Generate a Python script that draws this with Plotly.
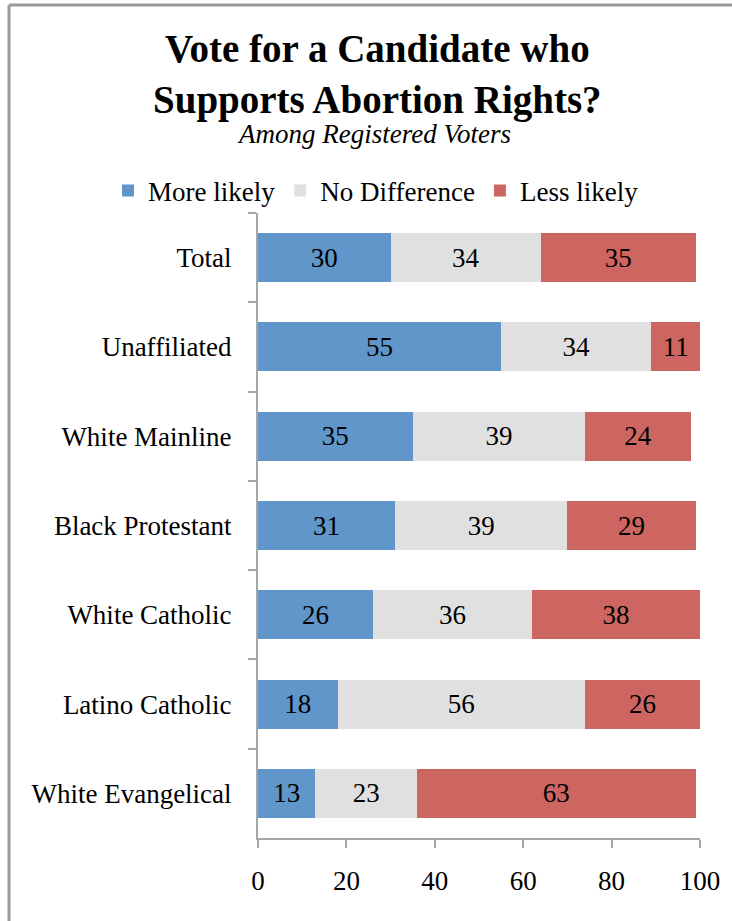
import plotly.graph_objects as go

categories = ["Total", "Unaffiliated", "White Mainline", "Black Protestant",
              "White Catholic", "Latino Catholic", "White Evangelical"]
more_likely = [30, 55, 35, 31, 26, 18, 13]
no_difference = [34, 34, 39, 39, 36, 56, 23]
less_likely = [35, 11, 24, 29, 38, 26, 63]
series_names = ["More likely", "No Difference", "Less likely"]
colors = ["#6096C9", "#E0E0E0", "#CD6661"]
x_ticks = [0, 20, 40, 60, 80, 100]

FONT = "Liberation Serif"

fig = go.Figure()
for name, vals, col in zip(series_names, [more_likely, no_difference, less_likely], colors):
    fig.add_trace(go.Bar(
        y=categories, x=vals, name=name, orientation="h",
        marker=dict(color=col, line=dict(width=0)),
        text=[str(v) for v in vals], textposition="inside",
        insidetextanchor="middle", textangle=0, constraintext="none",
        textfont=dict(family=FONT, size=27, color="black"),
        width=0.55,
    ))

# plot area: x 258..700, y 213..838
L, R, T, B = 258, 32, 213, 83
W, H = 732 - L - R, 921 - T - B

def px(xp):
    return (xp - L) / W

def py(yp):
    return (921 - B - yp) / H

fig.update_layout(
    barmode="stack",
    width=732, height=921,
    margin=dict(l=L, r=R, t=T, b=B, autoexpand=False),
    paper_bgcolor="white", plot_bgcolor="white",
    font=dict(family=FONT, size=27, color="black"),
    showlegend=True,
    legend=dict(orientation="h", x=px(108), y=py(191), xanchor="left", yanchor="middle",
                font=dict(family=FONT, size=27, color="black"),
                itemwidth=30, traceorder="normal", bgcolor="rgba(0,0,0,0)"),
    xaxis=dict(range=[0, 100], tickvals=x_ticks, showgrid=False, zeroline=False,
               showline=True, linecolor="#A6A6A6", linewidth=2,
               ticks="outside", ticklen=8, tickwidth=2, tickcolor="#A6A6A6",
               tickfont=dict(family=FONT, size=27, color="black"),
               ticklabelstandoff=10, fixedrange=True),
    yaxis=dict(autorange="reversed", showgrid=False, zeroline=False,
               showline=True, linecolor="#A6A6A6", linewidth=2,
               ticks="outside", ticklen=8, tickwidth=2, tickcolor="#A6A6A6",
               tickson="boundaries",
               tickfont=dict(family=FONT, size=27, color="black"),
               ticklabelstandoff=19, fixedrange=True),
)

fig.add_annotation(text="<b>Vote for a Candidate who<br>Supports Abortion Rights?</b>",
                   xref="paper", yref="paper", x=px(377), y=py(74),
                   xanchor="center", yanchor="middle", showarrow=False,
                   font=dict(family=FONT, size=39, color="black"))
fig.add_annotation(text="<i>Among Registered Voters</i>",
                   xref="paper", yref="paper", x=px(374), y=py(134),
                   xanchor="center", yanchor="middle", showarrow=False,
                   font=dict(family=FONT, size=27, color="black"))

# outer border (top and left visible)
fig.add_shape(type="line", xref="paper", yref="paper",
              x0=px(9), x1=px(740), y0=py(5), y1=py(5),
              line=dict(color="#999999", width=3))
fig.add_shape(type="line", xref="paper", yref="paper",
              x0=px(9), x1=px(9), y0=py(5), y1=py(930),
              line=dict(color="#999999", width=3))

fig.write_html("out.html", config={"displayModeBar": False},
               post_script="document.body.style.margin='0';document.body.style.overflow='hidden';")
